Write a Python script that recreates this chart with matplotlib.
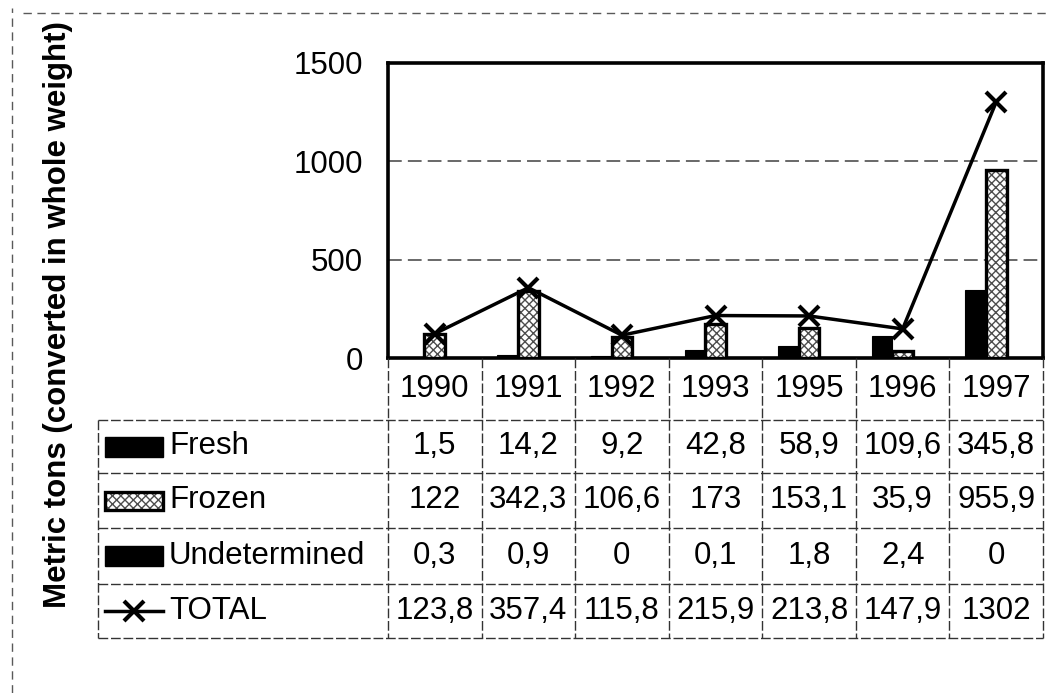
import matplotlib

matplotlib.use("Agg")
import matplotlib.pyplot as plt
import numpy as np
from matplotlib.lines import Line2D
from matplotlib.patches import Rectangle
from matplotlib.transforms import blended_transform_factory

years = ["1990", "1991", "1992", "1993", "1995", "1996", "1997"]
fresh = [1.5, 14.2, 9.2, 42.8, 58.9, 109.6, 345.8]
frozen = [122, 342.3, 106.6, 173, 153.1, 35.9, 955.9]
undetermined = [0.3, 0.9, 0, 0.1, 1.8, 2.4, 0]
total = [123.8, 357.4, 115.8, 215.9, 213.8, 147.9, 1302]
row_labels = ["Fresh", "Frozen", "Undetermined", "TOTAL"]

plt.rcParams["font.family"] = ["Liberation Sans", "DejaVu Sans"]
FS = 22.5
W, H = 1049, 693


def fx(px):
    return px / W


def fy(py):
    return 1 - py / H


fig = plt.figure(figsize=(W / 100, H / 100), dpi=100)
ax_left, ax_right, ax_top, ax_bot = 388, 1043, 63, 358
ax = fig.add_axes([fx(ax_left), fy(ax_bot), fx(ax_right - ax_left), (ax_bot - ax_top) / H])

x = np.arange(len(years))
w = 0.22
ax.bar(x - w, fresh, w, color="black", edgecolor="black", lw=0.8, zorder=3)
ax.bar(x, frozen, w, color="white", edgecolor="0.3", hatch="xxxx", lw=0, zorder=3)
ax.bar(x, frozen, w, fill=False, edgecolor="black", lw=2.4, zorder=4)
ax.bar(x + w, undetermined, w, color="black", edgecolor="black", lw=0.8, zorder=3)
ax.plot(x, total, color="black", lw=2.5, marker="x", ms=15, mew=3, zorder=5)

ax.set_xlim(-0.5, len(years) - 0.5)
ax.set_ylim(0, 1500)
ax.set_yticks([0, 500, 1000, 1500])
ax.set_xticks([])
ax.tick_params(axis="y", length=0, pad=18, labelsize=FS)
ax.yaxis.grid(True, color="0.25", lw=1.1, ls=(0, (9, 4)))
ax.set_axisbelow(True)
for s in ax.spines.values():
    s.set_linewidth(2.6)

# data table below the plot
fmt = lambda v: f"{v:g}".replace(".", ",")
rows_px = [358, 420, 473, 528, 584, 638]
tab_left = 98
bt = blended_transform_factory(ax.transData, fig.transFigure)
lkw = dict(color="0.2", lw=1.0, ls=(0, (7, 2)), transform=fig.transFigure)

for i, yr in enumerate(years):
    yc = (rows_px[0] + rows_px[1]) / 2
    ax.text(i, fy(yc), yr, transform=bt, ha="center", va="center", fontsize=FS)
    for r, series in enumerate([fresh, frozen, undetermined, total]):
        yc = (rows_px[r + 1] + rows_px[r + 2]) / 2
        ax.text(i, fy(yc), fmt(series[i]), transform=bt, ha="center", va="center", fontsize=FS)

col_w = (ax_right - ax_left) / len(years)
for k in range(len(years) + 1):
    xp = ax_left + k * col_w
    fig.add_artist(Line2D([fx(xp)] * 2, [fy(rows_px[0]), fy(rows_px[-1])], **lkw))
fig.add_artist(Line2D([fx(tab_left)] * 2, [fy(rows_px[1]), fy(rows_px[-1])], **lkw))
for yp in rows_px[1:]:
    fig.add_artist(Line2D([fx(tab_left), fx(ax_right)], [fy(yp)] * 2, **lkw))

# legend keys in the first column
for r, name in enumerate(row_labels):
    yc = (rows_px[r + 1] + rows_px[r + 2]) / 2
    if name == "TOTAL":
        fig.add_artist(Line2D([fx(105), fx(163)], [fy(yc)] * 2, color="black", lw=2.5))
        fig.add_artist(Line2D([fx(134)], [fy(yc)], marker="x", ms=15, mew=3, color="black"))
    elif name == "Frozen":
        fig.add_artist(Rectangle((fx(105), fy(yc + 9)), fx(58), 18 / H, transform=fig.transFigure,
                                 facecolor="white", edgecolor="0.3", hatch="xxxx", lw=0))
        fig.add_artist(Rectangle((fx(105), fy(yc + 9)), fx(58), 18 / H, transform=fig.transFigure,
                                 fill=False, edgecolor="black", lw=2.4))
    else:
        fig.add_artist(Rectangle((fx(105), fy(yc + 10)), fx(58), 20 / H, transform=fig.transFigure,
                                 facecolor="black", edgecolor="black"))
    fig.text(fx(169), fy(yc), name, ha="left", va="center", fontsize=FS)

fig.text(fx(58), fy(315), "Metric tons (converted in whole weight)", rotation=90,
         ha="center", va="center", fontsize=FS, fontweight="bold")

# dashed chart-area border (top and left)
bkw = dict(color="0.35", lw=1.0, ls=(0, (6, 4)), transform=fig.transFigure)
fig.add_artist(Line2D([fx(23), 1], [fy(13)] * 2, **bkw))
fig.add_artist(Line2D([fx(12)] * 2, [0, fy(8)], **bkw))

fig.savefig("out.png", dpi=100)
plt.close(fig)
